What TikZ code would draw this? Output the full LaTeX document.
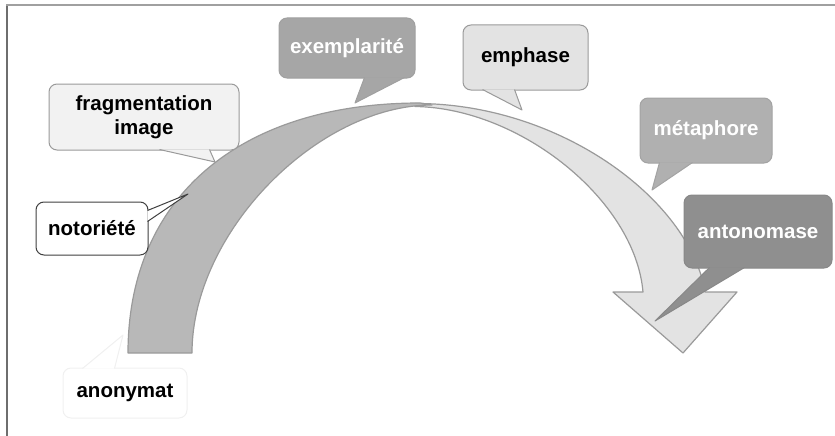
\documentclass[tikz,border=0pt]{standalone}
\usepackage{fontspec}
\setmainfont{Liberation Sans}
\usetikzlibrary{calc}

\definecolor{bandeFonce}{HTML}{B8B8B8}
\definecolor{bandeClaire}{HTML}{E3E3E3}
\definecolor{trait}{HTML}{9A9A9A}
\definecolor{cadreG}{HTML}{6E6E6E}
\definecolor{cadreH}{HTML}{A0A0A0}

\begin{document}
\begin{tikzpicture}[x=1pt,y=-1pt,
    bulle/.style={rectangle,rounded corners=8pt,inner sep=0pt,align=center,
      font=\fontsize{20.5}{24}\selectfont\bfseries,line width=1pt},
    queue/.style={line width=1pt,line join=round},
    bande/.style={draw=trait,line width=1.2pt,line join=round}]
\useasboundingbox (0,0) rectangle (835,436);

% cadre
\draw[line width=2pt,cadreG] (6.5,436) -- (6.5,5);
\draw[line width=1.5pt,cadreH] (6,5) -- (835,5);

% fleche claire
\filldraw[bande,fill=bandeClaire] (415,103.5) .. controls (560,103) and (690,200) .. (705,292)
    -- (737,292) -- (683,353) -- (613,292) -- (643,292)
    .. controls (635,200) and (520,108) .. (415,106.5) -- cycle;
% bande foncee
\filldraw[bande,fill=bandeFonce] (128,353) .. controls (128,198) and (239,103) .. (420,103)
    -- (432,105) .. controls (318,105) and (192,232) .. (192,353) -- cycle;

% pointes des bulles
\coordinate (pExemplarite) at (355,103);
\coordinate (pEmphase) at (522,110);
\coordinate (pMetaphore) at (652,190);
\coordinate (pAntonomase) at (655,321);
\coordinate (pFragmentation) at (215,162);
\coordinate (pNotoriete) at (188,194);
\coordinate (pAnonymat) at (123,335);

% bulles
\node[bulle,fill={rgb,255:red,166;green,166;blue,166},draw={rgb,255:red,160;green,160;blue,160},
    text=white,minimum width=136pt,minimum height=60pt] (exemplarite) at (347,48) {exemplarité};
\filldraw[queue,fill={rgb,255:red,166;green,166;blue,166},draw={rgb,255:red,160;green,160;blue,160}]
    ($(exemplarite.south west)+(86,-1)$) -- (pExemplarite) -- ($(exemplarite.south west)+(126,-1)$);

\node[bulle,fill=bandeClaire,draw=trait,minimum width=125pt,minimum height=65pt] (emphase) at (525.5,57.5) {emphase};
\filldraw[queue,fill=bandeClaire,draw=trait]
    ($(emphase.south west)+(20,-1)$) -- (pEmphase) -- ($(emphase.south west)+(52,-1)$);

\node[bulle,fill={rgb,255:red,176;green,176;blue,176},draw={rgb,255:red,163;green,163;blue,163},
    text=white,minimum width=132pt,minimum height=65pt] (metaphore) at (706,130.5) {métaphore};
\filldraw[queue,fill={rgb,255:red,176;green,176;blue,176},draw={rgb,255:red,163;green,163;blue,163}]
    ($(metaphore.south west)+(20,-1)$) -- (pMetaphore) -- ($(metaphore.south west)+(53,-1)$);

\node[bulle,fill={rgb,255:red,143;green,143;blue,143},draw={rgb,255:red,136;green,136;blue,136},
    text=white,minimum width=148pt,minimum height=73pt] (antonomase) at (758,231.5) {antonomase};
\filldraw[queue,fill={rgb,255:red,143;green,143;blue,143},draw={rgb,255:red,136;green,136;blue,136}]
    ($(antonomase.south west)+(26,-1)$) -- (pAntonomase) -- ($(antonomase.south west)+(61,-1)$);

\node[bulle,fill={rgb,255:red,242;green,242;blue,242},draw=trait,minimum width=190pt,minimum height=66pt]
    (fragmentation) at (144,117) {fragmentation\\image};
\filldraw[queue,fill={rgb,255:red,242;green,242;blue,242},draw=trait]
    ($(fragmentation.south west)+(111,-1)$) -- (pFragmentation) -- ($(fragmentation.south west)+(161,-1)$);

\node[bulle,fill=white,draw={rgb,255:red,64;green,64;blue,64},minimum width=112pt,minimum height=53pt]
    (notoriete) at (92,228.5) {notoriété};
\filldraw[queue,fill=white,draw={rgb,255:red,64;green,64;blue,64}]
    ($(notoriete.north east)+(-1,9)$) -- (pNotoriete) -- ($(notoriete.north east)+(-1,20)$);

\node[bulle,fill=white,draw={rgb,255:red,240;green,240;blue,240},minimum width=124pt,minimum height=50pt]
    (anonymat) at (125,393) {anonymat};
\filldraw[queue,fill=white,draw={rgb,255:red,240;green,240;blue,240}]
    ($(anonymat.north west)+(20,1)$) -- (pAnonymat) -- ($(anonymat.north west)+(52,1)$);
\end{tikzpicture}
\end{document}
